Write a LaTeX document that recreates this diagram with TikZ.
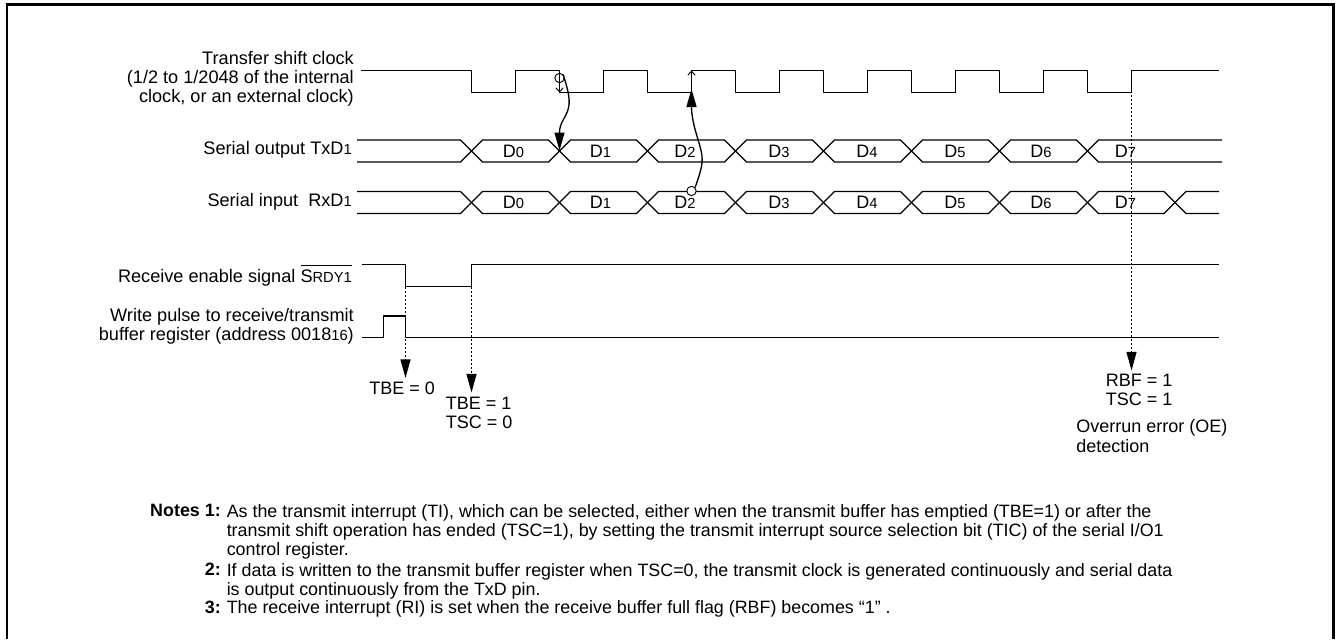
\documentclass[tikz,border=0pt]{standalone}
\usepackage{fontspec}
\setmainfont{Liberation Sans}
\usetikzlibrary{arrows.meta}

\newcommand{\lowidx}[1]{{\fontsize{11pt}{11pt}\selectfont #1}}

\tikzset{
    wave/.style={line width=1pt, line join=miter},
    dotline/.style={line width=1pt, dash pattern=on 1.5pt off 1.5pt, -{Triangle[length=14pt,width=7.5pt]}},
    bigtip/.style={line width=1pt, -{Triangle[length=13.5pt,width=7.5pt]}},
    thintip/.style={line width=0.7pt, -{Straight Barb[length=3pt,width=5.5pt]}},
    ringmark/.style={circle, draw, line width=0.7pt, minimum size=7pt, inner sep=0pt},
    siglabel/.style={anchor=east, align=right, inner sep=0pt, font=\fontsize{13.6pt}{14.1pt}\selectfont},
    datalabel/.style={inner sep=0pt, font=\fontsize{13.5pt}{14.1pt}\selectfont},
    flaglabel/.style={anchor=north west, align=left, inner sep=0pt, font=\fontsize{13.5pt}{14.4pt}\selectfont},
    notetext/.style={anchor=north west, align=left, inner sep=0pt, font=\fontsize{13.4pt}{14.5pt}\selectfont},
    notehead/.style={anchor=north east, align=right, inner sep=0pt, font=\fontsize{13.4pt}{14.5pt}\selectfont\bfseries}
}

\begin{document}
\begin{tikzpicture}[x=0.75pt, y=-0.75pt]
    \useasboundingbox (0,0) rectangle (1337,639);
    \draw[line width=1.9pt] (7,639) -- (7,4.5) -- (1333.5,4.5) -- (1333.5,639);

    % clock
    \draw[wave] (361,70.5) -- (471.5,70.5) -- (471.5,92.5) -- (515.5,92.5) -- (515.5,70.5) -- (559.5,70.5) -- (559.5,92.5) -- (603.5,92.5) -- (603.5,70.5) -- (647.5,70.5) -- (647.5,92.5) -- (691.5,92.5) -- (691.5,70.5) -- (735.5,70.5) -- (735.5,92.5) -- (779.5,92.5) -- (779.5,70.5) -- (823.5,70.5) -- (823.5,92.5) -- (867.5,92.5) -- (867.5,70.5) -- (911.5,70.5) -- (911.5,92.5) -- (955.5,92.5) -- (955.5,70.5) -- (999.5,70.5) -- (999.5,92.5) -- (1043.5,92.5) -- (1043.5,70.5) -- (1087.5,70.5) -- (1087.5,92.5) -- (1131.5,92.5) -- (1131.5,70.5) -- (1219,70.5);

    % serial output
    \draw[wave] (357,140) -- (460.5,140) -- (482.5,162) -- (548.5,162) -- (570.5,140) -- (636.5,140) -- (658.5,162) -- (724.5,162) -- (746.5,140) -- (812.5,140) -- (834.5,162) -- (900.5,162) -- (922.5,140) -- (988.5,140) -- (1010.5,162) -- (1076.5,162) -- (1098.5,140) -- (1222,140);
    \draw[wave] (357,162) -- (460.5,162) -- (482.5,140) -- (548.5,140) -- (570.5,162) -- (636.5,162) -- (658.5,140) -- (724.5,140) -- (746.5,162) -- (812.5,162) -- (834.5,140) -- (900.5,140) -- (922.5,162) -- (988.5,162) -- (1010.5,140) -- (1076.5,140) -- (1098.5,162) -- (1222,162);

    % serial input
    \draw[wave] (357,191.5) -- (460.5,191.5) -- (482.5,213.5) -- (548.5,213.5) -- (570.5,191.5) -- (636.5,191.5) -- (658.5,213.5) -- (724.5,213.5) -- (746.5,191.5) -- (812.5,191.5) -- (834.5,213.5) -- (900.5,213.5) -- (922.5,191.5) -- (988.5,191.5) -- (1010.5,213.5) -- (1076.5,213.5) -- (1098.5,191.5) -- (1164,191.5) -- (1186,213.5) -- (1219,213.5);
    \draw[wave] (357,213.5) -- (460.5,213.5) -- (482.5,191.5) -- (548.5,191.5) -- (570.5,213.5) -- (636.5,213.5) -- (658.5,191.5) -- (724.5,191.5) -- (746.5,213.5) -- (812.5,213.5) -- (834.5,191.5) -- (900.5,191.5) -- (922.5,213.5) -- (988.5,213.5) -- (1010.5,191.5) -- (1076.5,191.5) -- (1098.5,213.5) -- (1164,213.5) -- (1186,191.5) -- (1219,191.5);

    % enable and write pulse
    \draw[wave] (361.5,264.5) -- (405.5,264.5) -- (405.5,286.5) -- (471.5,286.5) -- (471.5,264.5) -- (1219,264.5);
    \draw[wave] (361.5,337.5) -- (383.5,337.5) -- (383.5,316) -- (405.5,316) -- (405.5,337.5) -- (1219,337.5);

    % labels of the signals
    \node[siglabel] (clocklabel) at (354,79) {Transfer shift clock\\(1/2 to 1/2048 of the internal\\clock, or an external clock)};
    \node[siglabel] (txdlabel) at (352,150) {Serial output TxD\lowidx{1}};
    \node[siglabel] (rxdlabel) at (352,202) {Serial input\ \ RxD\lowidx{1}};
    \node[siglabel] (srdylabel) at (352,275) {Receive enable signal $\overline{\hbox{\rule{0pt}{11.4pt}S\lowidx{RDY1}}}$};
    \node[siglabel] (writelabel) at (354,326) {Write pulse to receive/transmit\\buffer register (address 0018\lowidx{16})};

    % data bits
    \node[datalabel] (txa) at (513.5,151) {D\lowidx{0}};
    \node[datalabel] (txb) at (600.5,151) {D\lowidx{1}};
    \node[datalabel] (txc) at (685,151) {D\lowidx{2}};
    \node[datalabel] (txd) at (779,151) {D\lowidx{3}};
    \node[datalabel] (txe) at (867,151) {D\lowidx{4}};
    \node[datalabel] (txf) at (955,151) {D\lowidx{5}};
    \node[datalabel] (txg) at (1041,151) {D\lowidx{6}};
    \node[datalabel] (txh) at (1125.5,151) {D\lowidx{7}};
    \node[datalabel] (rxa) at (513.5,202) {D\lowidx{0}};
    \node[datalabel] (rxb) at (600.5,202) {D\lowidx{1}};
    \node[datalabel] (rxc) at (685,202) {D\lowidx{2}};
    \node[datalabel] (rxd) at (779,202) {D\lowidx{3}};
    \node[datalabel] (rxe) at (867,202) {D\lowidx{4}};
    \node[datalabel] (rxf) at (955,202) {D\lowidx{5}};
    \node[datalabel] (rxg) at (1041,202) {D\lowidx{6}};
    \node[datalabel] (rxh) at (1125.5,202) {D\lowidx{7}};

    % flags below the dotted lines
    \node[flaglabel] (tbezero) at (369,381.5) {TBE = 0};
    \node[flaglabel] (tbeone) at (445.5,396.5) {TBE = 1\\TSC = 0};
    \node[flaglabel] (rbfone) at (1105.5,374) {RBF = 1\\TSC = 1};
    \node[flaglabel] (overrun) at (1076,419.5) {Overrun error (OE)\\detection};

    \coordinate (srdyfall) at (405.5,286.5);
    \coordinate (srdyrise) at (471.5,286.5);
    \coordinate (clocklast) at (1131.5,70.5);
    \coordinate (tbezerotop) at (405.5,378);
    \coordinate (tbeonetop) at (471.5,392.5);
    \coordinate (rbftop) at (1131.5,370.5);
    \draw[dotline] (srdyfall) -- (tbezerotop);
    \draw[dotline] (srdyrise) -- (tbeonetop);
    \draw[dotline] (clocklast) -- (rbftop);

    % transmit edge
    \node[ringmark] (txring) at (559.5,78) {};
    \coordinate (txedge) at (559.5,92.5);
    \coordinate (txstart) at (559.5,150.5);
    \draw[thintip] (txring) -- (txedge);
    \draw[bigtip] (txring.north east) .. controls (566,84) and (571,98) .. (568.5,108) .. controls (566,118) and (559.5,122) .. (txstart);

    % receive edge
    \node[ringmark, fill=white] (rxring) at (691.5,191) {};
    \coordinate (rxedge) at (691.5,70.5);
    \coordinate (rxstop) at (691.5,89);
    \coordinate (clockhigh) at (691.5,92.5);
    \draw[thintip] (clockhigh) -- (rxedge);
    \draw[bigtip] (rxring.north east) .. controls (699,176) and (703,166) .. (702,156) .. controls (701,145) and (691.5,125) .. (rxstop);

    % notes
    \node[notehead] (notelabel) at (221,504) {Notes 1:};
    \node[notetext] (noteone) at (226.5,504) {As the transmit interrupt (TI), which can be selected, either when the transmit buffer has emptied (TBE=1) or after the\\transmit shift operation has ended (TSC=1), by setting the transmit interrupt source selection bit (TIC) of the serial I/O1\\control register.};
    \node[notehead] (twolabel) at (221,563) {2:};
    \node[notetext] (notetwo) at (226.5,563) {If data is written to the transmit buffer register when TSC=0, the transmit clock is generated continuously and serial data\\is output continuously from the TxD pin.};
    \node[notehead] (threelabel) at (221,600.5) {3:};
    \node[notetext] (notethree) at (226.5,600.5) {The receive interrupt (RI) is set when the receive buffer full flag (RBF) becomes “1” .};
\end{tikzpicture}
\end{document}
